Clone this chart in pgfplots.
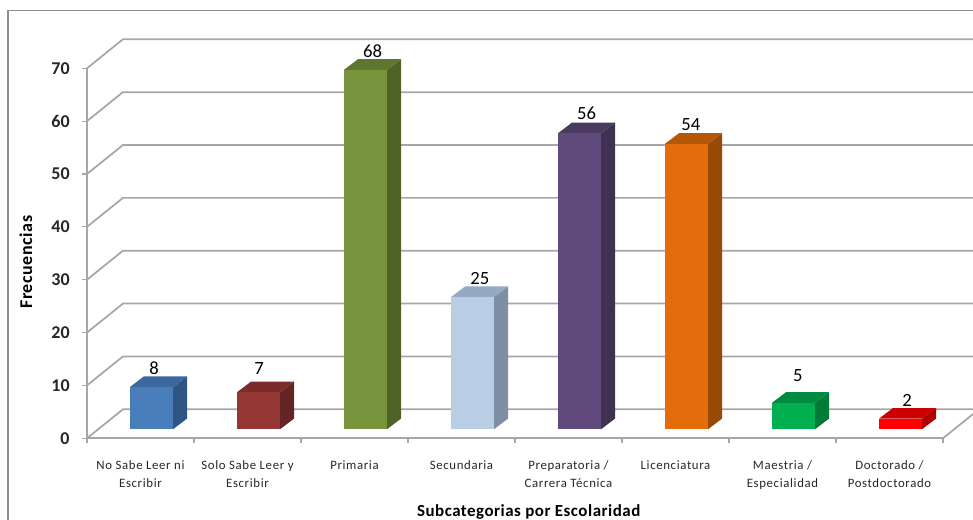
\documentclass[border=0pt]{standalone}
\usepackage{pgfplots}
\pgfplotsset{compat=1.18}
\usepackage{fontspec}
\setmainfont{Carlito}
\newfontfamily\catfont[LetterSpace=5]{Carlito}
\newfontfamily\titlefont[LetterSpace=3]{Carlito}
% 1 unit of layout = 0.75pt
\definecolor{gridgray}{HTML}{A6A6A6}
\definecolor{framegray}{HTML}{8E8E8E}
\definecolor{blueF}{HTML}{4A7EBB}\definecolor{blueT}{HTML}{3C689F}\definecolor{blueS}{HTML}{2F5587}
\definecolor{redF}{HTML}{953735}\definecolor{redT}{HTML}{7B2C2A}\definecolor{redS}{HTML}{632523}
\definecolor{oliveF}{HTML}{77933C}\definecolor{oliveT}{HTML}{5F7530}\definecolor{oliveS}{HTML}{4F6228}
\definecolor{paleF}{HTML}{B9CDE5}\definecolor{paleT}{HTML}{95A9C2}\definecolor{paleS}{HTML}{7E8FA5}
\definecolor{violetF}{HTML}{604A7B}\definecolor{violetT}{HTML}{4B3A60}\definecolor{violetS}{HTML}{403152}
\definecolor{orangeF}{HTML}{E46C0A}\definecolor{orangeT}{HTML}{B65708}\definecolor{orangeS}{HTML}{984807}
\definecolor{greenF}{HTML}{00B050}\definecolor{greenT}{HTML}{008C40}\definecolor{greenS}{HTML}{007A37}
\definecolor{brightF}{HTML}{FF0000}\definecolor{brightT}{HTML}{CC0000}\definecolor{brightS}{HTML}{B00000}
\pgfplotsset{
  box3d/.style={xshift=8.25pt,yshift=6.75pt,draw=none},
  wall/.style={draw=gridgray,line width=1.3pt},
  front/.style n args={3}{ybar,bar width=32.25pt,bar shift=0pt,box3d,fill=#1,
    nodes near coords,
    every node near coord/.style={anchor=center,font=\fontsize{14}{16}\selectfont,text=black,xshift=#2,yshift=#3}},
}
\begin{document}
\begin{tikzpicture}
\path[use as bounding box,clip] (-65.25pt,-61.3pt) rectangle (664.5pt,328.7pt);
\begin{axis}[
  at={(0,0)},anchor=south west,
  scale only axis,width=642pt,height=277.5pt,
  xmin=0,xmax=8,ymin=0,ymax=70,
  clip=false,
  axis lines=left,
  axis line style={-,draw=gridgray,line width=1.3pt},
  tick style={draw=gridgray,line width=0.9pt},
  tick align=outside,
  major tick length=3.5pt,
  ytick={0,10,...,70},
  xtick={0,...,8},
  xticklabels={},
  extra x ticks={0.5,1.5,...,7.5},
  extra x tick labels={{No Sabe Leer ni\\Escribir},{Solo Sabe Leer y\\Escribir},Primaria,Secundaria,{Preparatoria /\\Carrera Técnica},Licenciatura,{Maestria /\\Especialidad},{Doctorado /\\Postdoctorado}},
  extra x tick style={major tick length=0pt},
  xticklabel style={align=center,font=\catfont\fontsize{9.6}{13.5}\selectfont,text=black!85,anchor=north,yshift=-13.2pt},
  yticklabel style={font=\bfseries\fontsize{13.5}{15}\selectfont,text=black!85,xshift=-6pt},
  /pgf/number format/assume math mode=true,
  every axis y label/.style={at={(axis description cs:-0.0713,0.476)},rotate=90,anchor=center},
  every axis x label/.style={at={(axis description cs:0.516,-0.2)},anchor=center},
  ylabel={\titlefont\bfseries\fontsize{13.5}{15}\selectfont Frecuencias},
  xlabel={\titlefont\bfseries\fontsize{12.7}{15}\selectfont Subcategorias por Escolaridad},
]
% chart frame
\addplot[draw=framegray,line width=0.9pt] coordinates {(-0.738,-15.5) (-0.738,80.96) (8.5,80.96)};
% side wall and back wall gridlines
\addplot[wall] coordinates {(0,0) (0.336,5.48) (8.336,5.48) (8,0)};
\addplot[wall] coordinates {(0,10) (0.336,15.48) (8.5,15.48)};
\addplot[wall] coordinates {(0,20) (0.336,25.48) (8.5,25.48)};
\addplot[wall] coordinates {(0,30) (0.336,35.48) (8.5,35.48)};
\addplot[wall] coordinates {(0,40) (0.336,45.48) (8.5,45.48)};
\addplot[wall] coordinates {(0,50) (0.336,55.48) (8.5,55.48)};
\addplot[wall] coordinates {(0,60) (0.336,65.48) (8.5,65.48)};
\addplot[wall] coordinates {(0,70) (0.336,75.48) (8.5,75.48)};
% each column: side face, top face, then front face carrying the value
\addplot[box3d,fill=blueS] coordinates {(0.701,0) (0.832,2.02) (0.832,10.02) (0.701,8)} --cycle;
\addplot[box3d,fill=blueT] coordinates {(0.299,8) (0.701,8) (0.832,10.02) (0.430,10.02)} --cycle;
\addplot[front={blueF}{2pt}{14.25pt}] coordinates {(0.5,8)};
\addplot[box3d,fill=redS] coordinates {(1.701,0) (1.832,2.02) (1.832,9.02) (1.701,7)} --cycle;
\addplot[box3d,fill=redT] coordinates {(1.299,7) (1.701,7) (1.832,9.02) (1.430,9.02)} --cycle;
\addplot[front={redF}{0.4pt}{18pt}] coordinates {(1.5,7)};
\addplot[box3d,fill=oliveS] coordinates {(2.701,0) (2.832,2.02) (2.832,70.02) (2.701,68)} --cycle;
\addplot[box3d,fill=oliveT] coordinates {(2.299,68) (2.701,68) (2.832,70.02) (2.430,70.02)} --cycle;
\addplot[front={oliveF}{5.3pt}{14.25pt}] coordinates {(2.5,68)};
\addplot[box3d,fill=paleS] coordinates {(3.701,0) (3.832,2.02) (3.832,27.02) (3.701,25)} --cycle;
\addplot[box3d,fill=paleT] coordinates {(3.299,25) (3.701,25) (3.832,27.02) (3.430,27.02)} --cycle;
\addplot[front={paleF}{5.5pt}{14.25pt}] coordinates {(3.5,25)};
\addplot[box3d,fill=violetS] coordinates {(4.701,0) (4.832,2.02) (4.832,58.02) (4.701,56)} --cycle;
\addplot[box3d,fill=violetT] coordinates {(4.299,56) (4.701,56) (4.832,58.02) (4.430,58.02)} --cycle;
\addplot[front={violetF}{5.3pt}{15pt}] coordinates {(4.5,56)};
\addplot[box3d,fill=orangeS] coordinates {(5.701,0) (5.832,2.02) (5.832,56.02) (5.701,54)} --cycle;
\addplot[box3d,fill=orangeT] coordinates {(5.299,54) (5.701,54) (5.832,56.02) (5.430,56.02)} --cycle;
\addplot[front={orangeF}{3.2pt}{14.25pt}] coordinates {(5.5,54)};
\addplot[box3d,fill=greenS] coordinates {(6.701,0) (6.832,2.02) (6.832,7.02) (6.701,5)} --cycle;
\addplot[box3d,fill=greenT] coordinates {(6.299,5) (6.701,5) (6.832,7.02) (6.430,7.02)} --cycle;
\addplot[front={greenF}{3.2pt}{20.25pt}] coordinates {(6.5,5)};
\addplot[box3d,fill=brightS] coordinates {(7.701,0) (7.832,2.02) (7.832,4.02) (7.701,2)} --cycle;
\addplot[box3d,fill=brightT] coordinates {(7.299,2) (7.701,2) (7.832,4.02) (7.430,4.02)} --cycle;
\addplot[front={brightF}{5pt}{13.5pt}] coordinates {(7.5,2)};
\end{axis}
\end{tikzpicture}
\end{document}
